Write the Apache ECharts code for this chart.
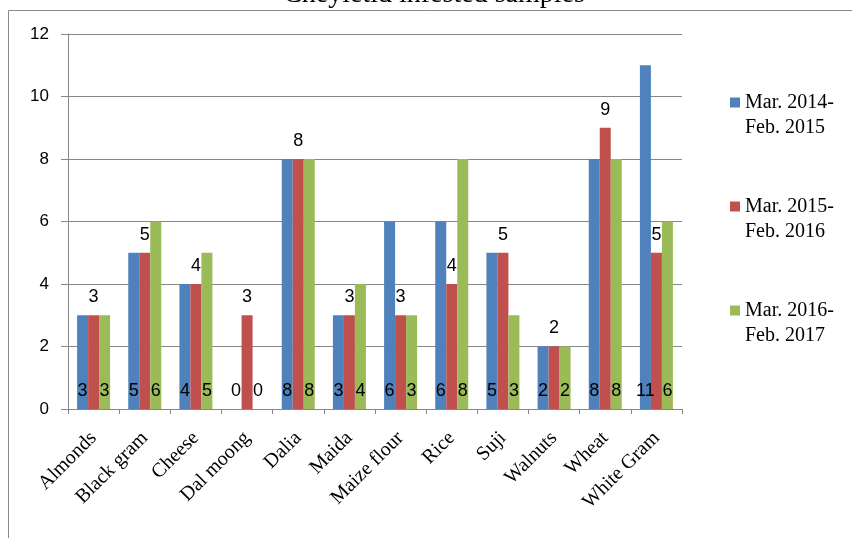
<!DOCTYPE html>
<html>
<head>
<meta charset="utf-8">
<title>Cheyletid infested samples</title>
<script src="https://cdn.jsdelivr.net/npm/echarts@6/dist/echarts.min.js"></script>
<style>
  html, body { margin: 0; padding: 0; background: #ffffff; }
  #chart { width: 852px; height: 538px; }
</style>
</head>
<body>
<div id="chart"></div>
<script>
// Commodities sampled
const categories = ['Almonds', 'Black gram', 'Cheese', 'Dal moong', 'Dalia', 'Maida',
  'Maize flour', 'Rice', 'Suji', 'Walnuts', 'Wheat', 'White Gram'];

// Number of cheyletid-infested samples per period
const period1 = [3, 5, 4, 0, 8, 3, 6, 6, 5, 2, 8, 11];
const period2 = [3, 5, 4, 3, 8, 3, 3, 4, 5, 2, 9, 5];
const period3 = [3, 6, 5, 0, 8, 4, 3, 8, 3, 2, 8, 6];

const seriesNames = ['Mar. 2014-\nFeb. 2015', 'Mar. 2015-\nFeb. 2016', 'Mar. 2016-\nFeb. 2017'];
const colors = ['#4F81BD', '#C0504D', '#9BBB59'];

const yTicks = { min: 0, max: 12, interval: 2 };

const serif = '"Liberation Serif", "Times New Roman", serif';
const sans = '"Liberation Sans", Arial, sans-serif';

const chart = echarts.init(document.getElementById('chart'), null, { renderer: 'canvas' });

function barSeries(name, data, color, labelPos) {
  return {
    name: name,
    type: 'bar',
    data: data,
    barWidth: 11,
    barGap: '0%',
    itemStyle: { color: color },
    label: {
      show: true,
      position: labelPos,
      distance: 9,
      color: '#000',
      fontFamily: sans,
      fontSize: 18
    },
    emphasis: { disabled: true }
  };
}

chart.setOption({
  animation: false,
  backgroundColor: '#ffffff',
  color: colors,
  graphic: [
    {
      type: 'rect',
      shape: { x: 8.5, y: 10.5, width: 900, height: 600 },
      style: { fill: 'none', stroke: '#8a8a8a', lineWidth: 1 },
      silent: true
    },
    {
      type: 'text',
      x: 434,
      y: -5,
      style: {
        text: 'Cheyletid infested samples',
        font: '28px ' + serif,
        fill: '#000',
        textAlign: 'center',
        textVerticalAlign: 'middle'
      },
      silent: true
    }
  ],
  legend: {
    orient: 'vertical',
    left: 730,
    top: 65,
    padding: 0,
    itemWidth: 10,
    itemHeight: 10,
    itemGap: 29,
    icon: 'rect',
    selectedMode: false,
    // blank leading line keeps the swatch level with the first line of each name
    formatter: function (name) { return ' \n' + name; },
    textStyle: {
      fontFamily: serif,
      fontSize: 20,
      lineHeight: 25,
      color: '#000'
    },
    data: seriesNames
  },
  grid: { left: 68, top: 34, right: 170, bottom: 129, containLabel: false },
  xAxis: {
    type: 'category',
    data: categories,
    axisLine: { lineStyle: { color: '#868686' } },
    axisTick: { show: true, length: 5, alignWithLabel: false, lineStyle: { color: '#868686' } },
    axisLabel: {
      interval: 0,
      rotate: 45,
      margin: 26,
      color: '#000',
      fontFamily: serif,
      fontSize: 20
    }
  },
  yAxis: {
    type: 'value',
    min: yTicks.min,
    max: yTicks.max,
    interval: yTicks.interval,
    axisLine: { show: true, lineStyle: { color: '#868686' } },
    axisTick: { show: true, length: 7, lineStyle: { color: '#868686' } },
    splitLine: { show: true, lineStyle: { color: '#868686' } },
    axisLabel: {
      margin: 19,
      color: '#000',
      fontFamily: sans,
      fontSize: 17
    }
  },
  series: [
    barSeries(seriesNames[0], period1, colors[0], 'insideBottom'),
    barSeries(seriesNames[1], period2, colors[1], 'top'),
    barSeries(seriesNames[2], period3, colors[2], 'insideBottom')
  ]
});
</script>
</body>
</html>
